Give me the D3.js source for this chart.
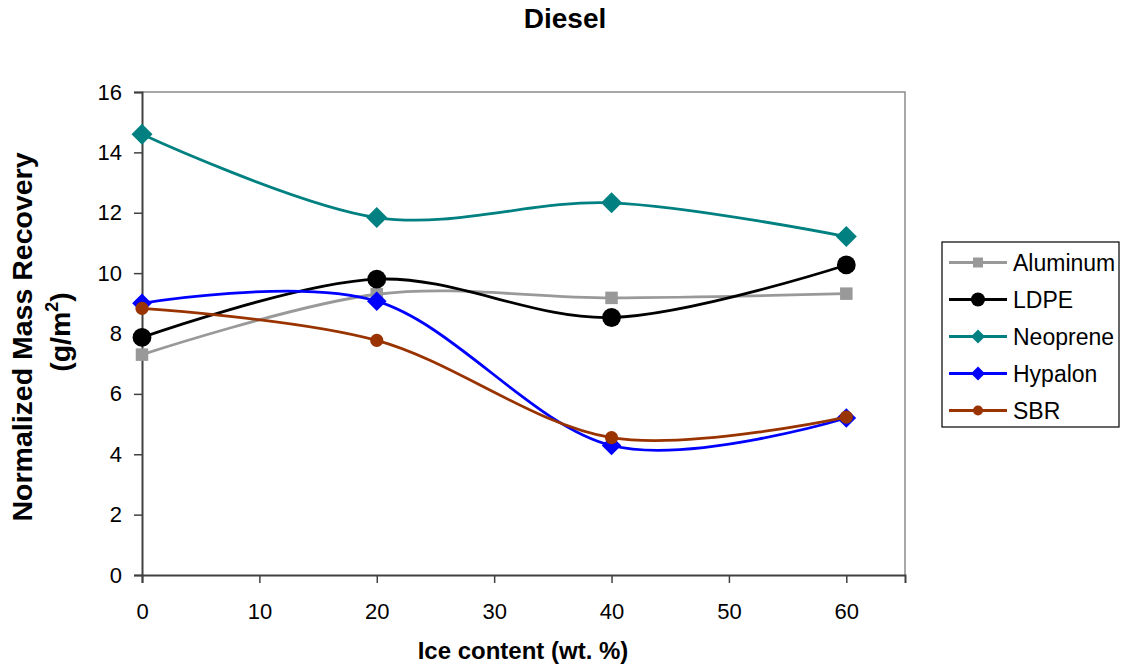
<!DOCTYPE html>
<html>
<head>
<meta charset="utf-8">
<script src="https://cdn.jsdelivr.net/npm/d3@7"></script>
<style>
  html, body { margin: 0; padding: 0; background: #fff; }
  svg { display: block; font-family: Arial, "Liberation Sans", sans-serif; }
</style>
</head>
<body>
<svg id="chart" width="1122" height="668"></svg>
<script>
// Ice content (wt. %) at which recovery was measured
const iceContent = [0, 20, 40, 60];

// Normalized mass recovery (g/m²) per sorbent material
const aluminum = [7.30, 9.30, 9.18, 9.32];
const ldpe     = [7.87, 9.80, 8.53, 10.27];
const neoprene = [14.60, 11.84, 12.33, 11.21];
const hypalon  = [9.00, 9.07, 4.29, 5.20];
const sbr      = [8.83, 7.77, 4.55, 5.23];

const seriesNames = ["Aluminum", "LDPE", "Neoprene", "Hypalon", "SBR"];
const seriesValues = [aluminum, ldpe, neoprene, hypalon, sbr];

const xTicks = [0, 10, 20, 30, 40, 50, 60];
const yTicks = [0, 2, 4, 6, 8, 10, 12, 14, 16];

// Visual style per series
const styles = {
  Aluminum: { color: "#999999", shape: "square",  size: 12.5, legendSize: 10 },
  LDPE:     { color: "#000000", shape: "circle",  size: 9.4,  legendSize: 7 },
  Neoprene: { color: "#008080", shape: "diamond", size: 10.5, legendSize: 7 },
  Hypalon:  { color: "#0000FF", shape: "diamond", size: 9.8,  legendSize: 7 },
  SBR:      { color: "#993300", shape: "circle",  size: 6.6,  legendSize: 5 }
};

const svg = d3.select("#chart");
const plotLeft = 142, plotRight = 905, plotTop = 92, plotBottom = 575;

const x = d3.scaleLinear().domain([0, 65]).range([plotLeft, plotRight]);
const y = d3.scaleLinear().domain([0, 16]).range([plotBottom, plotTop]);

// Plot frame: light grey top/right edges
svg.append("path")
  .attr("d", `M${plotLeft},${plotTop}H${plotRight}V${plotBottom}`)
  .attr("fill", "none")
  .attr("stroke", "#8c8c8c")
  .attr("stroke-width", 1.5);

// Y axis
const yAxis = svg.append("g")
  .attr("transform", `translate(${plotLeft},0)`)
  .call(d3.axisLeft(y).tickValues(yTicks).tickSize(8).tickPadding(12).tickFormat(d3.format("d")));
yAxis.select(".domain").attr("stroke", "#404040").attr("stroke-width", 2);
yAxis.selectAll(".tick line").attr("stroke", "#404040").attr("stroke-width", 1.5);
yAxis.selectAll(".tick text")
  .attr("font-size", 22).attr("fill", "#000").attr("font-family", "Arial, 'Liberation Sans', sans-serif");

// X axis
const xAxis = svg.append("g")
  .attr("transform", `translate(0,${plotBottom})`)
  .call(d3.axisBottom(x).tickValues(xTicks).tickSize(8).tickPadding(20).tickFormat(d3.format("d")));
xAxis.select(".domain").attr("stroke", "#404040").attr("stroke-width", 2);
xAxis.selectAll(".tick line").attr("stroke", "#404040").attr("stroke-width", 1.5);
xAxis.selectAll(".tick text")
  .attr("font-size", 22).attr("fill", "#000").attr("font-family", "Arial, 'Liberation Sans', sans-serif");

// Smoothed series lines
const line = d3.line()
  .x((d, i) => x(iceContent[i]))
  .y(d => y(d))
  .curve(d3.curveCardinal.tension(0));

function drawMarker(g, shape, cx, cy, s, color) {
  if (shape === "square") {
    g.append("rect").attr("x", cx - s / 2).attr("y", cy - s / 2)
      .attr("width", s).attr("height", s).attr("fill", color);
  } else if (shape === "circle") {
    g.append("circle").attr("cx", cx).attr("cy", cy).attr("r", s).attr("fill", color);
  } else {
    g.append("path")
      .attr("d", `M${cx},${cy - s}L${cx + s},${cy}L${cx},${cy + s}L${cx - s},${cy}Z`)
      .attr("fill", color);
  }
}

seriesNames.forEach((name, k) => {
  const st = styles[name];
  const vals = seriesValues[k];
  const g = svg.append("g");
  g.append("path")
    .attr("d", line(vals))
    .attr("fill", "none")
    .attr("stroke", st.color)
    .attr("stroke-width", 2.8)
    .attr("stroke-linejoin", "round");
  vals.forEach((v, i) => drawMarker(g, st.shape, x(iceContent[i]), y(v), st.size, st.color));
});

// Title
svg.append("text")
  .attr("x", 565).attr("y", 28)
  .attr("text-anchor", "middle")
  .attr("font-size", 28).attr("font-weight", "bold")
  .text("Diesel");

// X axis title
svg.append("text")
  .attr("x", 523).attr("y", 659)
  .attr("text-anchor", "middle")
  .attr("font-size", 24).attr("font-weight", "bold")
  .text("Ice content (wt. %)");

// Y axis title (two lines)
svg.append("text")
  .attr("transform", "translate(32,337) rotate(-90)")
  .attr("text-anchor", "middle")
  .attr("font-size", 28.5).attr("font-weight", "bold")
  .text("Normalized Mass Recovery");

const unit = svg.append("text")
  .attr("transform", "translate(70,332) rotate(-90)")
  .attr("text-anchor", "middle")
  .attr("font-size", 28.5).attr("font-weight", "bold");
unit.append("tspan").text("(g/m");
unit.append("tspan").attr("dy", -12).attr("font-size", 18).text("2");
unit.append("tspan").attr("dy", 12).text(")");

// Legend
const legend = svg.append("g");
legend.append("rect")
  .attr("x", 942).attr("y", 242).attr("width", 177).attr("height", 185)
  .attr("fill", "#fff").attr("stroke", "#000").attr("stroke-width", 1.2);

seriesNames.forEach((name, k) => {
  const st = styles[name];
  const cy = 262.5 + k * 37;
  legend.append("line")
    .attr("x1", 949).attr("x2", 1007).attr("y1", cy).attr("y2", cy)
    .attr("stroke", st.color).attr("stroke-width", 2.8);
  drawMarker(legend, st.shape, 978, cy, st.legendSize, st.color);
  legend.append("text")
    .attr("x", 1013).attr("y", cy + 8)
    .attr("font-size", 23)
    .text(name);
});
</script>
</body>
</html>
